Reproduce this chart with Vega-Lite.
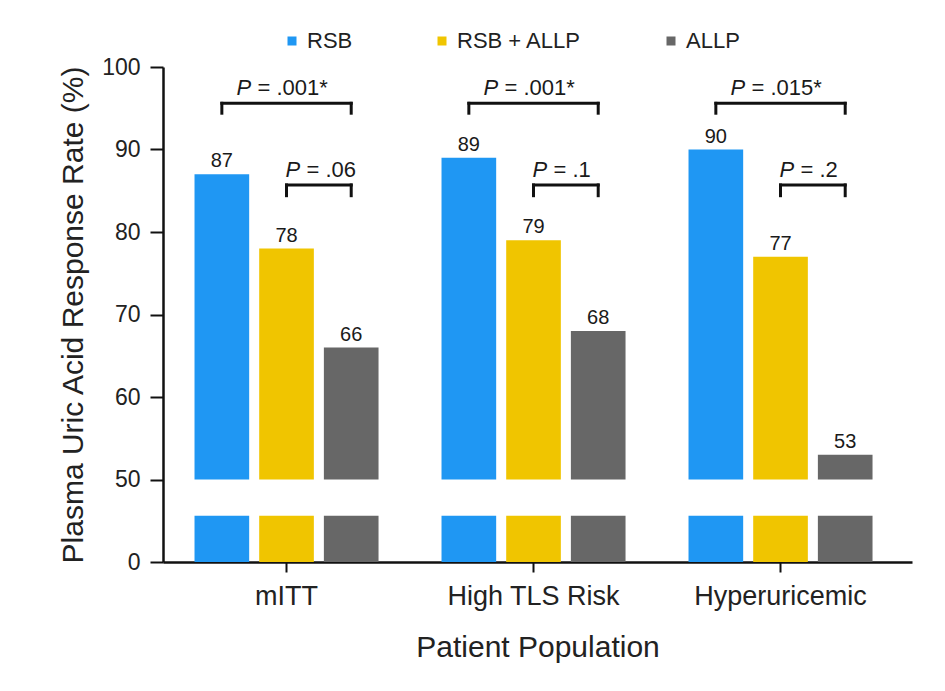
{
  "$schema": "https://vega.github.io/schema/vega-lite/v6.json",
  "width": 749,
  "height": 495,
  "autosize": {"type": "none"},
  "padding": {"left": 163, "top": 67, "right": 33, "bottom": 129},
  "background": "white",
  "config": {
    "font": "Liberation Sans",
    "view": {"stroke": null},
    "axis": {"grid": false, "domainColor": "#111", "tickColor": "#111", "labelColor": "#222", "titleColor": "#222", "labelFont": "Liberation Sans", "titleFont": "Liberation Sans", "titleFontWeight": "normal", "domainWidth": 2.5, "tickWidth": 2},
    "axisX": {"labelAngle": 0, "labelFontSize": 27, "titleFontSize": 30, "tickSize": 10, "labelPadding": 11, "titlePadding": 23},
    "axisY": {"labelFontSize": 23, "titleFontSize": 30, "tickSize": 13, "labelPadding": 10, "titlePadding": 13}
  },
  "datasets": {
    "bars": [
      {"group": "mITT", "series": "RSB", "value": 87},
      {"group": "mITT", "series": "RSB + ALLP", "value": 78},
      {"group": "mITT", "series": "ALLP", "value": 66},
      {"group": "High TLS Risk", "series": "RSB", "value": 89},
      {"group": "High TLS Risk", "series": "RSB + ALLP", "value": 79},
      {"group": "High TLS Risk", "series": "ALLP", "value": 68},
      {"group": "Hyperuricemic", "series": "RSB", "value": 90},
      {"group": "Hyperuricemic", "series": "RSB + ALLP", "value": 77},
      {"group": "Hyperuricemic", "series": "ALLP", "value": 53}
    ],
    "brackets": [
      {"group": "mITT", "bracket": "top", "series": "RSB"},
      {"group": "mITT", "bracket": "top", "series": "ALLP"},
      {"group": "mITT", "bracket": "low", "series": "RSB + ALLP"},
      {"group": "mITT", "bracket": "low", "series": "ALLP"},
      {"group": "High TLS Risk", "bracket": "top", "series": "RSB"},
      {"group": "High TLS Risk", "bracket": "top", "series": "ALLP"},
      {"group": "High TLS Risk", "bracket": "low", "series": "RSB + ALLP"},
      {"group": "High TLS Risk", "bracket": "low", "series": "ALLP"},
      {"group": "Hyperuricemic", "bracket": "top", "series": "RSB"},
      {"group": "Hyperuricemic", "bracket": "top", "series": "ALLP"},
      {"group": "Hyperuricemic", "bracket": "low", "series": "RSB + ALLP"},
      {"group": "Hyperuricemic", "bracket": "low", "series": "ALLP"}
    ],
    "pvals": [
      {"group": "mITT", "bracket": "top", "sym": "P", "p": "= .001*"},
      {"group": "mITT", "bracket": "low", "sym": "P", "p": "= .06"},
      {"group": "High TLS Risk", "bracket": "top", "sym": "P", "p": "= .001*"},
      {"group": "High TLS Risk", "bracket": "low", "sym": "P", "p": "= .1"},
      {"group": "Hyperuricemic", "bracket": "top", "sym": "P", "p": "= .015*"},
      {"group": "Hyperuricemic", "bracket": "low", "sym": "P", "p": "= .2"}
    ]
  },
  "encoding": {
    "x": {"field": "group", "type": "nominal", "title": "Patient Population",
      "scale": {"type": "band", "domain": ["mITT", "High TLS Risk", "Hyperuricemic"], "paddingInner": 0.255, "paddingOuter": 0.1437, "align": 0.444}}
  },
  "layer": [
    {
      "data": {"name": "bars"},
      "mark": {"type": "bar"},
      "encoding": {
        "xOffset": {"field": "series", "type": "nominal", "scale": {"domain": ["RSB", "RSB + ALLP", "ALLP"], "paddingInner": 0.155}},
        "y": {"field": "value", "type": "quantitative", "title": "Plasma Uric Acid Response Rate (%)", "scale": {"domain": [40, 100], "zero": false, "nice": false},
          "axis": {"values": [40, 50, 60, 70, 80, 90, 100], "labelExpr": "datum.value == 40 ? '0' : datum.label"}},
        "y2": {"datum": 50},
        "color": {"field": "series", "type": "nominal", "scale": {"domain": ["RSB", "RSB + ALLP", "ALLP"], "range": ["#1F97F3", "#F0C500", "#676767"]},
          "legend": {"title": null, "orient": "none", "legendX": 118, "legendY": -37, "direction": "horizontal", "symbolType": "square", "symbolSize": 81, "symbolStrokeWidth": 0, "labelFontSize": 22, "labelColor": "#222", "labelOffset": 4, "columnPadding": 78, "padding": 0}}
      }
    },
    {
      "data": {"name": "bars"},
      "mark": {"type": "bar"},
      "encoding": {
        "xOffset": {"field": "series", "type": "nominal", "scale": {"domain": ["RSB", "RSB + ALLP", "ALLP"]}},
        "y": {"datum": 40, "type": "quantitative", "title": "Plasma Uric Acid Response Rate (%)", "axis": {"values": [40, 50, 60, 70, 80, 90, 100], "labelExpr": "datum.value == 40 ? '0' : datum.label"}},
        "y2": {"datum": 45.6},
        "color": {"field": "series", "type": "nominal"}
      }
    },
    {
      "data": {"name": "bars"},
      "mark": {"type": "text", "fontSize": 20, "color": "#1a1a1a", "baseline": "alphabetic", "dy": -7},
      "encoding": {
        "xOffset": {"field": "series", "type": "nominal", "scale": {"domain": ["RSB", "RSB + ALLP", "ALLP"]}},
        "y": {"field": "value", "type": "quantitative", "title": "Plasma Uric Acid Response Rate (%)", "axis": {"values": [40, 50, 60, 70, 80, 90, 100], "labelExpr": "datum.value == 40 ? '0' : datum.label"}},
        "text": {"field": "value", "type": "quantitative"}
      }
    },
    {
      "data": {"name": "brackets"},
      "transform": [{"filter": "datum.bracket == 'top'"}],
      "mark": {"type": "line", "color": "#111", "strokeWidth": 3, "strokeCap": "square"},
      "encoding": {
        "xOffset": {"field": "series", "type": "nominal", "scale": {"domain": ["RSB", "RSB + ALLP", "ALLP"]}},
        "y": {"datum": 95.6, "type": "quantitative", "title": "Plasma Uric Acid Response Rate (%)", "axis": {"values": [40, 50, 60, 70, 80, 90, 100], "labelExpr": "datum.value == 40 ? '0' : datum.label"}},
        "detail": {"field": "group", "type": "nominal"}
      }
    },
    {
      "data": {"name": "brackets"},
      "transform": [{"filter": "datum.bracket == 'top'"}],
      "mark": {"type": "rule", "color": "#111", "strokeWidth": 3, "strokeCap": "square"},
      "encoding": {
        "xOffset": {"field": "series", "type": "nominal", "scale": {"domain": ["RSB", "RSB + ALLP", "ALLP"]}},
        "y": {"datum": 94.4, "type": "quantitative", "title": "Plasma Uric Acid Response Rate (%)", "axis": {"values": [40, 50, 60, 70, 80, 90, 100], "labelExpr": "datum.value == 40 ? '0' : datum.label"}},
        "y2": {"datum": 95.6}
      }
    },
    {
      "data": {"name": "brackets"},
      "transform": [{"filter": "datum.bracket == 'low'"}],
      "mark": {"type": "line", "color": "#111", "strokeWidth": 3, "strokeCap": "square"},
      "encoding": {
        "xOffset": {"field": "series", "type": "nominal", "scale": {"domain": ["RSB", "RSB + ALLP", "ALLP"]}},
        "y": {"datum": 85.7, "type": "quantitative", "title": "Plasma Uric Acid Response Rate (%)", "axis": {"values": [40, 50, 60, 70, 80, 90, 100], "labelExpr": "datum.value == 40 ? '0' : datum.label"}},
        "detail": {"field": "group", "type": "nominal"}
      }
    },
    {
      "data": {"name": "brackets"},
      "transform": [{"filter": "datum.bracket == 'low'"}],
      "mark": {"type": "rule", "color": "#111", "strokeWidth": 3, "strokeCap": "square"},
      "encoding": {
        "xOffset": {"field": "series", "type": "nominal", "scale": {"domain": ["RSB", "RSB + ALLP", "ALLP"]}},
        "y": {"datum": 84.4, "type": "quantitative", "title": "Plasma Uric Acid Response Rate (%)", "axis": {"values": [40, 50, 60, 70, 80, 90, 100], "labelExpr": "datum.value == 40 ? '0' : datum.label"}},
        "y2": {"datum": 85.7}
      }
    },
    {
      "data": {"name": "pvals"},
      "transform": [{"filter": "datum.bracket == 'top'"}],
      "mark": {"type": "text", "fontSize": 22, "fontStyle": "italic", "color": "#1a1a1a", "align": "left", "baseline": "alphabetic", "dx": -50, "dy": -8},
      "encoding": {
        "y": {"datum": 95.6, "type": "quantitative", "title": "Plasma Uric Acid Response Rate (%)", "axis": {"values": [40, 50, 60, 70, 80, 90, 100], "labelExpr": "datum.value == 40 ? '0' : datum.label"}},
        "text": {"field": "sym"}
      }
    },
    {
      "data": {"name": "pvals"},
      "transform": [{"filter": "datum.bracket == 'top'"}],
      "mark": {"type": "text", "fontSize": 22, "color": "#1a1a1a", "align": "left", "baseline": "alphabetic", "dx": -29, "dy": -8},
      "encoding": {
        "y": {"datum": 95.6, "type": "quantitative", "title": "Plasma Uric Acid Response Rate (%)", "axis": {"values": [40, 50, 60, 70, 80, 90, 100], "labelExpr": "datum.value == 40 ? '0' : datum.label"}},
        "text": {"field": "p"}
      }
    },
    {
      "data": {"name": "pvals"},
      "transform": [{"filter": "datum.bracket == 'low'"}],
      "mark": {"type": "text", "fontSize": 22, "fontStyle": "italic", "color": "#1a1a1a", "align": "left", "baseline": "alphabetic", "dx": -1, "dy": -8},
      "encoding": {
        "y": {"datum": 85.7, "type": "quantitative", "title": "Plasma Uric Acid Response Rate (%)", "axis": {"values": [40, 50, 60, 70, 80, 90, 100], "labelExpr": "datum.value == 40 ? '0' : datum.label"}},
        "text": {"field": "sym"}
      }
    },
    {
      "data": {"name": "pvals"},
      "transform": [{"filter": "datum.bracket == 'low'"}],
      "mark": {"type": "text", "fontSize": 22, "color": "#1a1a1a", "align": "left", "baseline": "alphabetic", "dx": 20, "dy": -8},
      "encoding": {
        "y": {"datum": 85.7, "type": "quantitative", "title": "Plasma Uric Acid Response Rate (%)", "axis": {"values": [40, 50, 60, 70, 80, 90, 100], "labelExpr": "datum.value == 40 ? '0' : datum.label"}},
        "text": {"field": "p"}
      }
    }
  ]
}
